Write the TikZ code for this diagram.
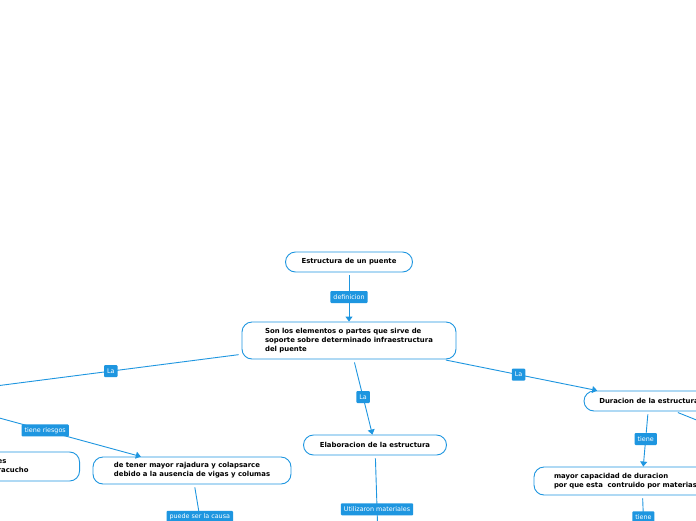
\documentclass[tikz,border=0pt]{standalone}
\usepackage{fontspec}
\setmainfont{DejaVu Sans}
\usetikzlibrary{arrows.meta}
\definecolor{mapblue}{RGB}{30,150,224}

\begin{document}
\begin{tikzpicture}[x=1pt,y=-1pt]
		\begin{scope}
		
		\tikzstyle{mybox}=[rectangle,
		rounded corners=10pt,
		draw=mapblue,
		line width=0.9pt,
		fill=white,
		align=left,
		inner sep=0pt,
		font=\fontsize{6.9}{9}\selectfont\bfseries
		]
		\tikzstyle{mylabel}=[rectangle,
		rounded corners=1pt,
		fill=mapblue,
		text=white,
		inner xsep=3pt,
		inner ysep=0pt,
		minimum height=12pt,
		font=\fontsize{6.4}{7}\selectfont
		]
		\tikzstyle{myline}=[draw=mapblue,
		line width=0.9pt,
		shorten <=3pt,
		-{Triangle[width=7pt,length=5pt]}
		]
		\tikzstyle{myplain}=[draw=mapblue,
		line width=0.9pt,
		shorten <=3pt
		]
		
		\fill[white] (0,0) rectangle (696,520);
		\useasboundingbox (0,0) rectangle (696,520);
		\clip (0,0) rectangle (696,520);
		
		\coordinate (ptitulo) at (349, 262);
		\coordinate (pdef) at (349, 340.5);
		\coordinate (pelab) at (375, 445);
		\coordinate (pdur) at (649, 401);
		\coordinate (pmayor) at (642, 481);
		\coordinate (priesgo) at (192, 470.5);
		\coordinate (pfrag) at (80, 466.5);
		
		% fuera del cuadro
		\coordinate (izq) at (-20, 388);
		\coordinate (izqb) at (-30, 410);
		\coordinate (abajo1) at (207, 560);
		\coordinate (abajo2) at (379, 570);
		\coordinate (abajo3) at (645, 560);
		\coordinate (der) at (749, 441);
		
		\node[mybox, minimum width=127pt, minimum height=20pt] (titulo) at (ptitulo) {Estructura de un puente};
		\node[mybox, minimum width=214pt, minimum height=37pt] (def) at (pdef) {Son los elementos o partes que sirve de\\soporte sobre determinado infraestructura\\del puente};
		\node[mybox, minimum width=143pt, minimum height=20pt] (elab) at (pelab) {Elaboracion de la estructura};
		\node[mybox, minimum width=130pt, minimum height=20pt] (dur) at (pdur) {Duracion de la estructura};
		\node[mybox, text width=176pt, minimum width=216pt, minimum height=28pt] (mayor) at (pmayor) {mayor capacidad de duracion\\por que esta\ \ contruido por materias};
		\node[mybox, minimum width=198pt, minimum height=27pt] (riesgo) at (priesgo) {de tener mayor rajadura y colapsarce\\debido a la ausencia de vigas y columas};
		\node[mybox, anchor=east, inner xsep=51pt, minimum height=29pt] (frag) at (pfrag) {es\\racucho};
		
		\draw[myline] (titulo) -- node[mylabel] {definicion} (def);
		\draw[myline] (def) -- node[mylabel, pos=0.5] {La} (izq);
		\draw[myline] (def) -- node[mylabel, pos=0.5] {La} (elab);
		\draw[myline] (def) -- node[mylabel, pos=0.49] {La} (dur);
		\draw[myline] (dur) -- node[mylabel, pos=0.5] {tiene} (mayor);
		\draw[myplain] (dur) -- (der);
		\draw[myplain] (mayor) -- node[mylabel, pos=0.34] {tiene} (abajo3);
		\draw[myline] (izqb) -- node[mylabel, pos=0.44] {tiene riesgos} (riesgo);
		\draw[myplain] (riesgo) -- node[mylabel, pos=0.43] {puede ser la causa} (abajo1);
		\draw[myplain] (elab) -- node[mylabel, pos=0.47] {Utilizaron materiales} (abajo2);
		
		\end{scope}
\end{tikzpicture}
\end{document}
